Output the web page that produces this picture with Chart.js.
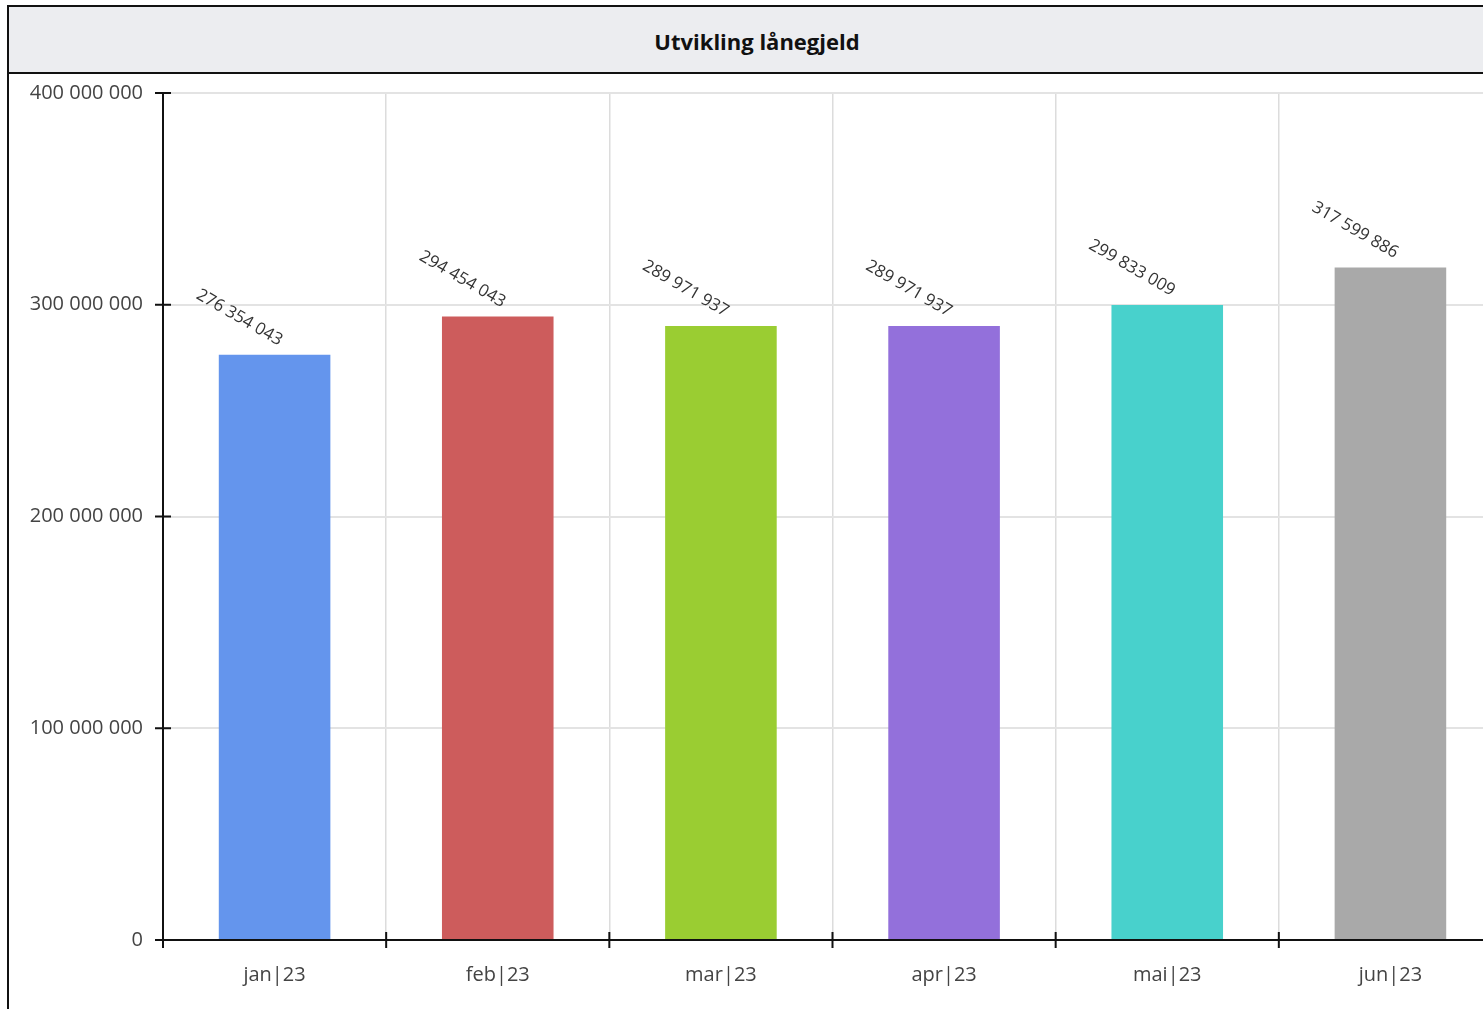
<!DOCTYPE html>
<html>
<head>
<meta charset="utf-8">
<script src="https://cdn.jsdelivr.net/npm/chart.js@4"></script>
<style>
  body { margin: 0; background: #fff; overflow: hidden; font-family: "Open Sans", sans-serif; }
  #box { position: absolute; left: 7px; top: 5px; width: 1496px; height: 1040px; border: 2px solid #111; }
  #title { height: 65px; line-height: 69px; background: #ecedf0; border-bottom: 2px solid #111;
           text-align: center; font-weight: bold; font-size: 22px; color: #111; }
  #wrap { position: relative; width: 1496px; height: 935px; }
</style>
</head>
<body>
<div id="box">
  <div id="title">Utvikling lånegjeld</div>
  <div id="wrap"><canvas id="loanChart"></canvas></div>
</div>
<script>
// data
const months = ['jan|23', 'feb|23', 'mar|23', 'apr|23', 'mai|23', 'jun|23'];
const loanDebt = [276354043, 294454043, 289971937, 289971937, 299833009, 317599886];
const barColors = ['#6495ed', '#cd5c5c', '#9acd32', '#9370db', '#48d1cc', '#a9a9a9'];
const yTicks = [0, 100000000, 200000000, 300000000, 400000000];

// 276354043 -> "276 354 043"
function spaced(n) {
  return String(Math.round(n)).replace(/\B(?=(\d{3})+(?!\d))/g, ' ');
}

// tick marks that cross the axis lines
const crossTicks = {
  id: 'crossTicks',
  afterDraw(chart) {
    const ctx = chart.ctx, area = chart.chartArea;
    const y = chart.scales.y;
    ctx.save();
    ctx.strokeStyle = '#111';
    ctx.lineWidth = 2;
    ctx.beginPath();
    y.ticks.forEach((t, i) => {
      const py = y.getPixelForTick(i);
      ctx.moveTo(area.left - 8, py);
      ctx.lineTo(area.left + 8, py);
    });
    const step = (area.right - area.left) / months.length;
    for (let i = 0; i <= months.length; i++) {
      const px = area.left + i * step;
      ctx.moveTo(px, area.bottom - 8);
      ctx.lineTo(px, area.bottom + 8);
    }
    ctx.stroke();
    ctx.restore();
  }
};

// rotated value labels above each bar
const valueLabels = {
  id: 'valueLabels',
  afterDatasetsDraw(chart) {
    const ctx = chart.ctx;
    const meta = chart.getDatasetMeta(0);
    ctx.save();
    ctx.font = '17px "Open Sans", sans-serif';
    ctx.fillStyle = '#333';
    ctx.textAlign = 'right';
    ctx.textBaseline = 'alphabetic';
    meta.data.forEach((bar, i) => {
      ctx.save();
      ctx.translate(bar.x + 4, bar.y - 9);
      ctx.rotate(30 * Math.PI / 180);
      ctx.fillText(spaced(loanDebt[i]), 0, 0);
      ctx.restore();
    });
    ctx.restore();
  }
};

new Chart(document.getElementById('loanChart'), {
  type: 'bar',
  data: {
    labels: months,
    datasets: [{
      data: loanDebt,
      backgroundColor: barColors,
      borderWidth: 0,
      categoryPercentage: 0.5,
      barPercentage: 1
    }]
  },
  options: {
    responsive: true,
    maintainAspectRatio: false,
    animation: false,
    layout: { padding: { top: 19, right: 3, left: 0, bottom: 0 } },
    plugins: { legend: { display: false }, tooltip: { enabled: false } },
    scales: {
      x: {
        grid: { color: '#dcdcdc', lineWidth: 1.5, drawTicks: false },
        border: { color: '#111', width: 2 },
        ticks: { color: '#444', padding: 23, font: { family: 'Open Sans', size: 20 } },
        afterFit(scale) { scale.height = 69; }
      },
      y: {
        min: 0,
        max: 400000000,
        afterBuildTicks(scale) { scale.ticks = yTicks.map(v => ({ value: v })); },
        grid: { color: '#e3e3e3', lineWidth: 2, drawTicks: false },
        border: { color: '#111', width: 2 },
        ticks: {
          color: '#444', padding: 20, font: { family: 'Open Sans', size: 20 },
          callback: v => spaced(v)
        },
        afterFit(scale) {
          scale.width = 154;
          scale.paddingTop = 0;
          scale.paddingBottom = 0;
        }
      }
    }
  },
  plugins: [crossTicks, valueLabels]
});
</script>
</body>
</html>
